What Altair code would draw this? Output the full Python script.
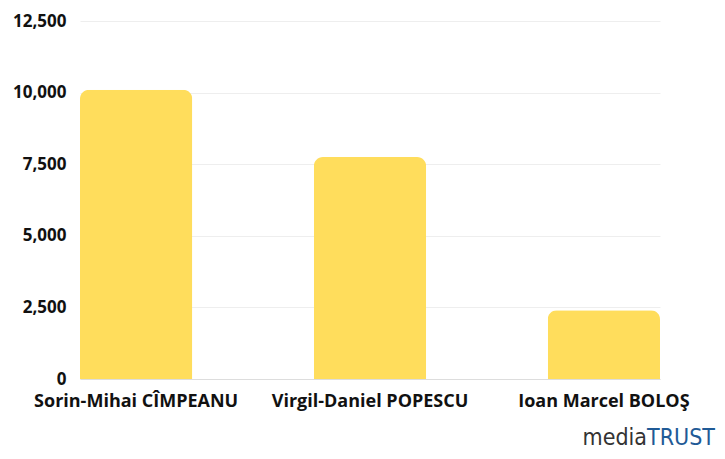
import altair as alt
import pandas as pd

names = ["Sorin-Mihai CÎMPEANU", "Virgil-Daniel POPESCU", "Ioan Marcel BOLOŞ"]
values = [10100, 7750, 2400]
y_ticks = [0, 2500, 5000, 7500, 10000, 12500]

df = pd.DataFrame({"name": names, "value": values})

bars = alt.Chart(df).mark_bar(
    color="#FFDD5C", cornerRadiusTopLeft=9, cornerRadiusTopRight=9
).encode(
    x=alt.X("name:N", sort=names, title=None,
            scale=alt.Scale(paddingInner=0.52, paddingOuter=0),
            axis=alt.Axis(labelAngle=0, labelFont="Open Sans", labelFontWeight="bold",
                          labelFontSize=18, labelColor="#111111", ticks=False, labelLimit=0,
                          domainColor="#dddddd", labelPadding=13)),
    y=alt.Y("value:Q", title=None,
            scale=alt.Scale(domain=[0, 12500], nice=False),
            axis=alt.Axis(values=y_ticks, labelExpr="format(datum.value, ',')",
                          labelFont="Open Sans",
                          labelFontWeight="bold", labelFontSize=17, labelColor="#111111",
                          ticks=False, domain=False, gridColor="#eeeeee", labelPadding=14)),
)

logo_font = "DejaVu Sans Condensed, Liberation Sans Narrow, sans-serif"
media = alt.Chart(pd.DataFrame({"t": ["media"]})).mark_text(
    font=logo_font, fontSize=23, align="right", baseline="alphabetic", color="#333333"
).encode(text="t:N", x=alt.value(567), y=alt.value(424))
trust = alt.Chart(pd.DataFrame({"t": ["TRUST"]})).mark_text(
    font=logo_font, fontSize=23, align="left", baseline="alphabetic", color="#1F5A96"
).encode(text="t:N", x=alt.value(567), y=alt.value(424))

chart = alt.layer(bars, media, trust).properties(
    width=580, height=358,
    autosize=alt.AutoSizeParams(type="none"),
    padding={"left": 72, "top": 13, "right": 57, "bottom": 72},
).configure_view(stroke=None)

chart.save("out.html", embed_options={"renderer": "svg", "actions": False})
